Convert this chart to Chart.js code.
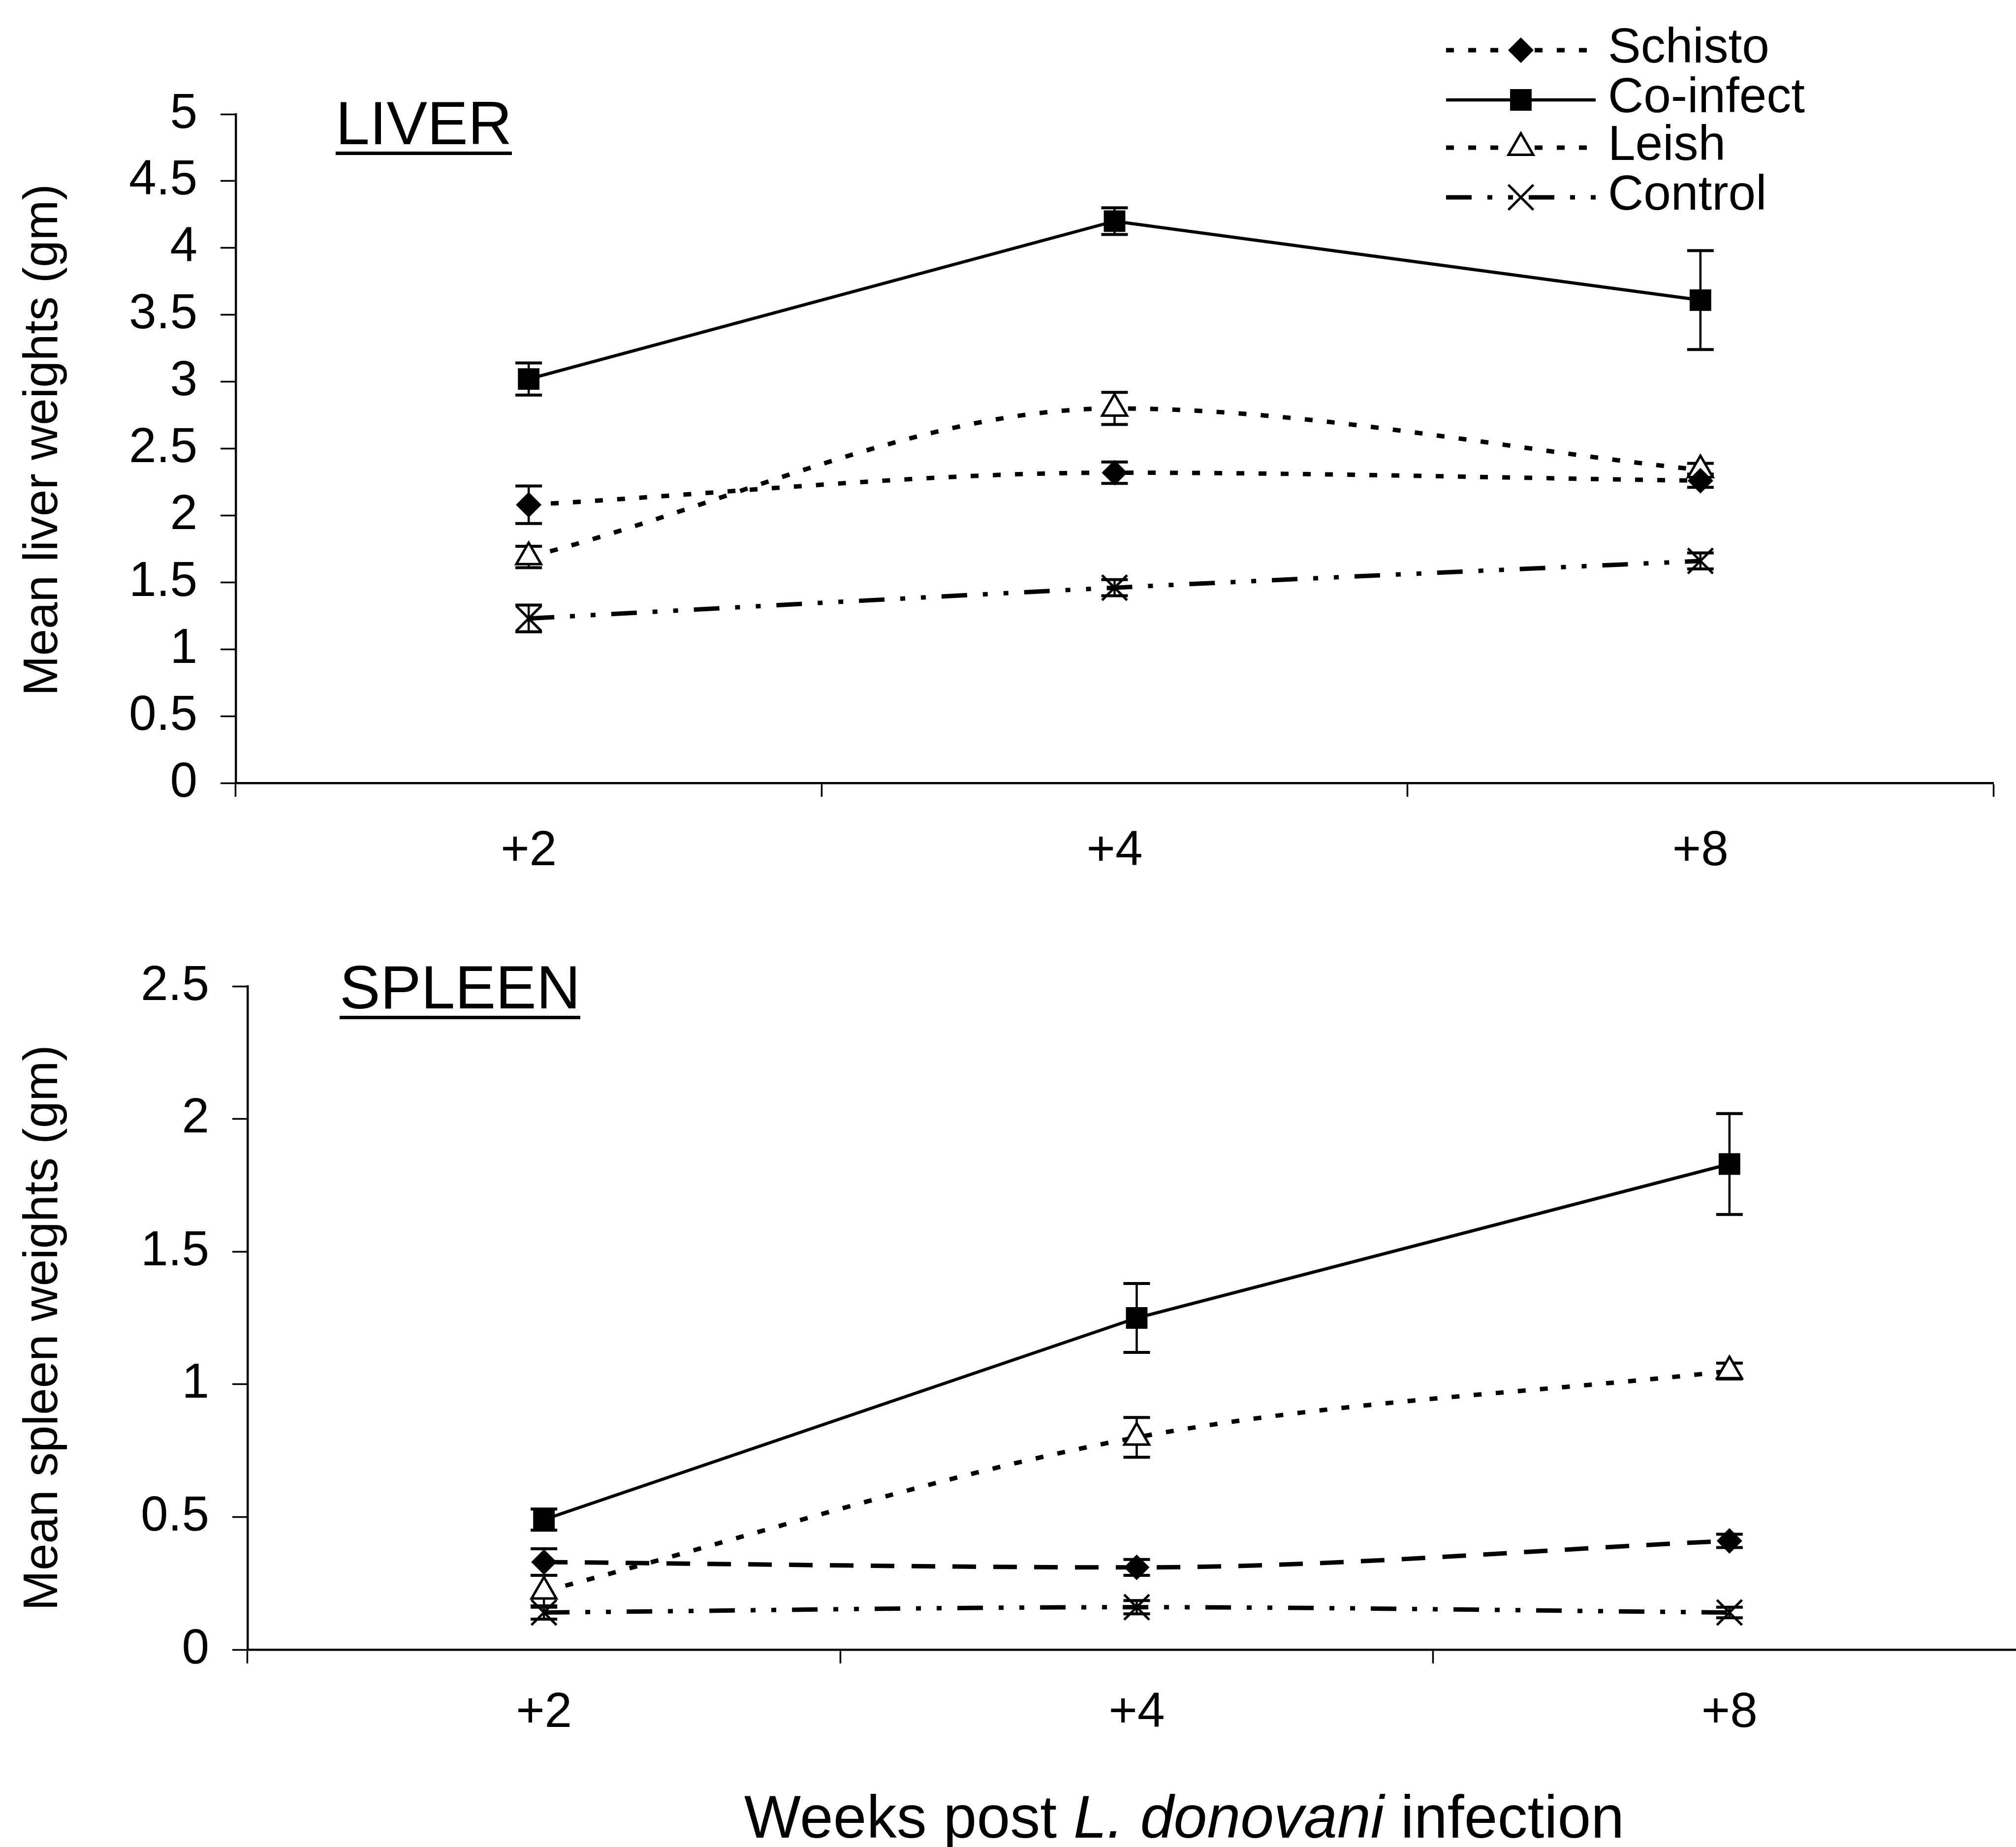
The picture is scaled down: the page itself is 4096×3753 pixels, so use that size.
<!DOCTYPE html>
<html>
<head>
<meta charset="utf-8">
<script src="https://cdn.jsdelivr.net/npm/chart.js@4.4.1/dist/chart.umd.min.js"></script>
<style>
  html, body { margin: 0; padding: 0; background: #fff; overflow: hidden; }
  body { width: 4096px; height: 3753px; position: relative; overflow: hidden; font-family: "Liberation Sans", Arial, sans-serif; color: #000; }
  canvas { position: absolute; left: 0; }
  #liver { top: 0; }
  #spleen { top: 1830px; }
  .panel { position: absolute; font-size: 124px; line-height: 116px; border-bottom: 7px solid #000; white-space: nowrap; }
  #xtitle { position: absolute; left: 1512px; top: 3631px; font-size: 122px; line-height: 122px; white-space: nowrap; }
</style>
</head>
<body>
<canvas id="liver" width="4096" height="1830"></canvas>
<canvas id="spleen" width="4120" height="1923"></canvas>
<div class="panel" style="left:682px; top:192px">LIVER</div>
<div class="panel" style="left:690px; top:1948px">SPLEEN</div>
<div id="xtitle">Weeks post <i>L. donovani</i> infection</div>
<script>
// categories
const weeks = ["+2", "+4", "+8"];

// liver weights (gm) and error bars
const liverSchisto = [2.08, 2.32, 2.26];
const liverSchistoErr = [0.14, 0.08, 0.05];
const liverCoinfect = [3.02, 4.20, 3.61];
const liverCoinfectErr = [0.12, 0.10, 0.37];
const liverLeish = [1.69, 2.80, 2.34];
const liverLeishErr = [0.08, 0.12, 0.05];
const liverControl = [1.23, 1.46, 1.66];
const liverControlErr = [0.10, 0.06, 0.06];

// spleen weights (gm) and error bars
const spleenSchisto = [0.33, 0.31, 0.41];
const spleenSchistoErr = [0.05, 0.03, 0.025];
const spleenCoinfect = [0.49, 1.25, 1.83];
const spleenCoinfectErr = [0.04, 0.13, 0.19];
const spleenLeish = [0.22, 0.80, 1.05];
const spleenLeishErr = [0.06, 0.075, 0.03];
const spleenControl = [0.14, 0.16, 0.14];
const spleenControlErr = [0.025, 0.025, 0.02];

// axis ranges
const liverMax = 5;
const spleenMax = 2.5;
const tickStep = 0.5;

Chart.defaults.font.family = '"Liberation Sans", Arial, sans-serif';
Chart.defaults.color = "#000";

// line patterns
const DOT = [16, 29];
const DASH = [48, 35];
const DASH_DOT_DOT = [52, 32, 10, 32, 10, 32];

const markers = {
  "Schisto":   { pointStyle: "rectRot", pointRadius: 26, pointBackgroundColor: "#000", pointBorderColor: "#000", pointBorderWidth: 0 },
  "Co-infect": { pointStyle: "rect", pointRadius: 31, pointBackgroundColor: "#000", pointBorderColor: "#000", pointBorderWidth: 0 },
  "Leish":     { pointStyle: "triangle", pointRadius: 29, pointBackgroundColor: "#fff", pointBorderColor: "#000", pointBorderWidth: 5 },
  "Control":   { pointStyle: "crossRot", pointRadius: 36, pointBackgroundColor: "#000", pointBorderColor: "#000", pointBorderWidth: 5 }
};

const makeDataset = (name, values, errors, dash, smooth) => {
  return Object.assign({
    label: name,
    data: values,
    errors: errors,
    borderColor: "#000",
    borderWidth: name === "Co-infect" ? 6.5 : 9,
    borderDash: dash,
    tension: smooth ? 0.3 : 0,
    cubicInterpolationMode: smooth ? "monotone" : "default",
    fill: false,
    clip: false
  }, markers[name]);
};

//error bars go under the lines so the open triangles stay white
const errorBars = {
  id: "errorBars",
  beforeDatasetsDraw(chart) {
    const ctx = chart.ctx;
    const x = chart.scales.x;
    const y = chart.scales.y;
    ctx.save();
    ctx.strokeStyle = "#000";
    chart.data.datasets.forEach((ds) => {
      ds.data.forEach((v, j) => {
        const px = x.getPixelForValue(j);
        const top = y.getPixelForValue(v + ds.errors[j]);
        const bot = y.getPixelForValue(v - ds.errors[j]);
        ctx.lineWidth = 4.5;
        ctx.beginPath();
        ctx.moveTo(px, top);
        ctx.lineTo(px, bot);
        ctx.stroke();
        ctx.lineWidth = 6;
        ctx.beginPath();
        ctx.moveTo(px - 27, top);
        ctx.lineTo(px + 27, top);
        ctx.moveTo(px - 27, bot);
        ctx.lineTo(px + 27, bot);
        ctx.stroke();
      });
    });
    ctx.restore();
  }
};

//rotated y title, placed by hand (chart.js would center it on the axis)
const yTitle = {
  id: "yTitle",
  afterDraw(chart, args, opts) {
    const ctx = chart.ctx;
    ctx.save();
    ctx.translate(89, opts.y);
    ctx.rotate(-Math.PI / 2);
    ctx.font = '98px "Liberation Sans", Arial, sans-serif';
    ctx.fillStyle = "#000";
    ctx.textAlign = "center";
    ctx.textBaseline = "middle";
    ctx.fillText(opts.text, 0, 0);
    ctx.restore();
  }
};

//legend: line sample + marker + name, top right
const lineLegend = {
  id: "lineLegend",
  afterDraw(chart) {
    const ctx = chart.ctx;
    const rowY = [102, 203, 300, 401];
    ctx.save();
    chart.data.datasets.forEach((ds, i) => {
      const y = rowY[i];
      ctx.strokeStyle = "#000";
      ctx.lineWidth = ds.borderWidth;
      ctx.setLineDash(ds.borderDash || []);
      ctx.beginPath();
      ctx.moveTo(2938, y);
      ctx.lineTo(3242, y);
      ctx.stroke();
      ctx.setLineDash([]);
      ctx.fillStyle = ds.pointBackgroundColor;
      ctx.strokeStyle = ds.pointBorderColor;
      ctx.lineWidth = ds.pointBorderWidth;
      Chart.helpers.drawPoint(ctx, {
        pointStyle: ds.pointStyle,
        radius: ds.pointRadius,
        borderWidth: ds.pointBorderWidth,
        rotation: 0
      }, 3090, y);
      ctx.fillStyle = "#000";
      ctx.font = '100px "Liberation Sans", Arial, sans-serif';
      ctx.textBaseline = "middle";
      ctx.textAlign = "left";
      ctx.fillText(ds.label, 3267, y - 3);
    });
    ctx.restore();
  }
};

const makeOptions = (o) => {
  return {
    responsive: false,
    animation: false,
    layout: { autoPadding: false, padding: o.padding },
    plugins: {
      legend: { display: false },
      tooltip: { enabled: false },
      yTitle: { text: o.yTitle, y: o.yTitleY }
    },
    scales: {
      x: {
        type: "category",
        offset: true,
        grid: { offset: true, drawOnChartArea: false, drawTicks: true, tickLength: 28, tickWidth: 3.5, tickColor: "#000" },
        border: { display: true, color: "#000", width: 4.5 },
        ticks: { font: { size: 100 }, color: "#000", padding: o.xPad, maxRotation: 0, autoSkip: false },
        afterFit: (s) => { s.height = 200; }
      },
      y: {
        min: 0,
        max: o.max,
        ticks: { stepSize: tickStep, font: { size: 100 }, color: "#000", padding: 47, callback: (v) => String(v) },
        grid: { drawOnChartArea: false, drawTicks: true, tickLength: 31, tickWidth: 3.5, tickColor: "#000" },
        border: { display: true, color: "#000", width: 4.5 },
        afterFit: (s) => { s.width = o.yWidth; }
      }
    }
  };
};

const liverChart = new Chart(document.getElementById("liver"), {
  type: "line",
  data: {
    labels: weeks,
    datasets: [
      makeDataset("Schisto", liverSchisto, liverSchistoErr, DOT, true),
      makeDataset("Co-infect", liverCoinfect, liverCoinfectErr, [], false),
      makeDataset("Leish", liverLeish, liverLeishErr, DOT, true),
      makeDataset("Control", liverControl, liverControlErr, DASH_DOT_DOT, true)
    ]
  },
  options: makeOptions({
    max: liverMax,
    yTitle: "Mean liver weights (gm)",
    yTitleY: 894,
    yWidth: 479,
    xPad: 51,
    padding: { top: 232, left: 0, right: 46, bottom: 39 }
  }),
  plugins: [errorBars, yTitle, lineLegend]
});

// spleen canvas is a little wider than the window: its axis runs off the right edge
const spleenChart = new Chart(document.getElementById("spleen"), {
  type: "line",
  data: {
    labels: weeks,
    datasets: [
      makeDataset("Schisto", spleenSchisto, spleenSchistoErr, DASH, true),
      makeDataset("Co-infect", spleenCoinfect, spleenCoinfectErr, [], false),
      makeDataset("Leish", spleenLeish, spleenLeishErr, DOT, true),
      makeDataset("Control", spleenControl, spleenControlErr, DASH_DOT_DOT, true)
    ]
  },
  options: makeOptions({
    max: spleenMax,
    yTitle: "Mean spleen weights (gm)",
    yTitleY: 868,
    yWidth: 503,
    xPad: 41,
    padding: { top: 174, left: 0, right: 4, bottom: 201 }
  }),
  plugins: [errorBars, yTitle]
});
</script>
</body>
</html>
